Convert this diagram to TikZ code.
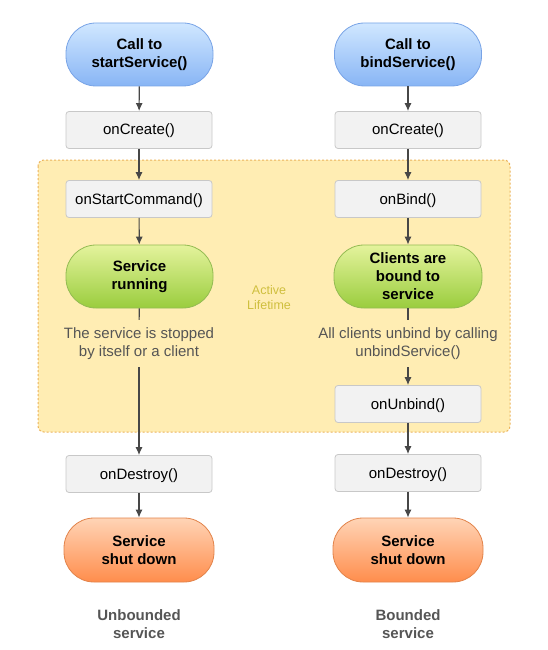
\documentclass[tikz,border=0pt]{standalone}
\usepackage{fontspec}
\setmainfont{Liberation Sans}
\usetikzlibrary{arrows.meta}
\definecolor{boxfill}{HTML}{F2F2F2}
\definecolor{boxline}{HTML}{C8C8C8}
\definecolor{lifefill}{HTML}{FFEDB3}
\definecolor{lifeline}{HTML}{EBB25A}
\definecolor{lifetext}{HTML}{CFBF3E}
\definecolor{arrowgray}{HTML}{474747}
\definecolor{notegray}{HTML}{555555}
\definecolor{bluetop}{HTML}{D0E7FF}
\definecolor{bluebot}{HTML}{88B5F5}
\definecolor{blueline}{HTML}{78A3E6}
\definecolor{greentop}{HTML}{E4F39C}
\definecolor{greenbot}{HTML}{9ACD3E}
\definecolor{greenline}{HTML}{93BB52}
\definecolor{orangetop}{HTML}{FFD4B6}
\definecolor{orangebot}{HTML}{FF8D4C}
\definecolor{orangeline}{HTML}{E2834A}
\begin{document}
\begin{tikzpicture}[x=1pt,y=-1pt,
  every node/.style={font=\fontsize{15}{18}\selectfont,align=center},
  pill/.style={rounded corners=30pt,minimum width=147pt,minimum height=63pt,
    inner sep=0pt,font=\bfseries\fontsize{15}{18}\selectfont,line width=0.8pt},
  pillblue/.style={pill,draw=blueline,top color=bluetop,bottom color=bluebot},
  pillgreen/.style={pill,draw=greenline,top color=greentop,bottom color=greenbot},
  pillorange/.style={pill,draw=orangeline,top color=orangetop,bottom color=orangebot,minimum width=150pt,minimum height=64pt},
  callbox/.style={draw=boxline,fill=boxfill,rounded corners=3pt,minimum width=146pt,minimum height=37pt,
    inner sep=0pt,text height=11pt,text depth=1pt,line width=0.8pt},
  note/.style={text=notegray,inner xsep=2pt,inner ysep=7.5pt},
  flow/.style={draw=arrowgray,line width=1.1pt,-{Latex[length=8pt,width=7pt]}},
  link/.style={draw=arrowgray,line width=1.1pt}]

\useasboundingbox (0,0) rectangle (547,650);

% active lifetime region
\draw [lifeline,fill=lifefill,rounded corners=6pt,line width=1pt,dash pattern=on 2pt off 2pt] (38,160) rectangle (510,432);
\node [text=lifetext,font=\fontsize{12.5}{15}\selectfont] (life) at (269,298) {Active\\Lifetime};

% started service
\node [pillblue] (callstart) at (139.5,54.5) {Call to\\startService()};
\node [callbox] (createl) at (139,130) {onCreate()};
\node [callbox] (startcmd) at (139,199) {onStartCommand()};
\node [pillgreen] (running) at (139.5,276.5) {Service\\running};
\node [note] (stopnote) at (139,343.5) {The service is stopped\\by itself or a client};
\node [callbox] (destroyl) at (139,474) {onDestroy()};
\node [pillorange] (shutl) at (139,550) {Service\\shut down};
\node [text=notegray,font=\bfseries\fontsize{15}{18}\selectfont] (unbounded) at (139,624) {Unbounded\\service};

% bound service
\node [pillblue] (callbind) at (408,54.5) {Call to\\bindService()};
\node [callbox] (creater) at (408,130) {onCreate()};
\node [callbox] (onbind) at (408,199) {onBind()};
\node [pillgreen,minimum width=148pt] (bound) at (408,276.5) {Clients are\\bound to\\service};
\node [note] (unbindnote) at (408,343.5) {All clients unbind by calling\\unbindService()};
\node [callbox] (onunbind) at (408,404) {onUnbind()};
\node [callbox] (destroyr) at (408,473) {onDestroy()};
\node [pillorange] (shutr) at (408,550) {Service\\shut down};
\node [text=notegray,font=\bfseries\fontsize{15}{18}\selectfont] (bounded) at (408,624) {Bounded\\service};

% connectors
\draw [flow] (callstart) -- (createl);
\draw [flow] (createl) -- (startcmd);
\draw [flow] (startcmd) -- (running);
\draw [link] (running) -- (stopnote);
\draw [flow] (stopnote) -- (destroyl);
\draw [flow] (destroyl) -- (shutl);

\draw [flow] (callbind) -- (creater);
\draw [flow] (creater) -- (onbind);
\draw [flow] (onbind) -- (bound);
\draw [link] (bound) -- (unbindnote);
\draw [flow] (unbindnote) -- (onunbind);
\draw [flow] (onunbind) -- (destroyr);
\draw [flow] (destroyr) -- (shutr);
\end{tikzpicture}
\end{document}
